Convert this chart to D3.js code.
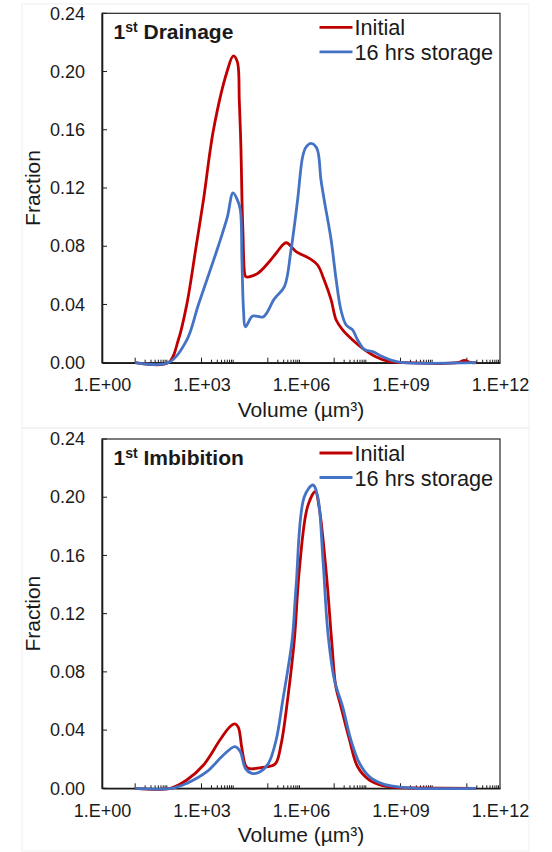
<!DOCTYPE html>
<html>
<head>
<meta charset="utf-8">
<script src="https://cdn.jsdelivr.net/npm/d3@7"></script>
<style>
body { margin: 0; background: #fff; }
text { font-family: Arial, "Liberation Sans", sans-serif; fill: #1a1a1a; }
</style>
</head>
<body>
<svg id="chart" width="552" height="852"></svg>
<script>
var yTicks = [0, 0.04, 0.08, 0.12, 0.16, 0.20, 0.24];
var xTickValues = [1e0, 1e3, 1e6, 1e9, 1e12];
var xTickLabels = ["1.E+00", "1.E+03", "1.E+06", "1.E+09", "1.E+12"];
var seriesNames = ["Initial", "16 hrs storage"];
var panelTitles = ["Drainage", "Imbibition"];

// 1st drainage
var drainInitVol  = [1e1, 1e2, 2.0e2, 3.6e2, 6.9e2, 1.15e3, 2.3e3, 5.9e3, 9.1e3, 1.2e4, 1.38e4, 1.55e4, 1.66e4, 1.78e4, 2.0e4, 2.19e4, 4.7e4, 1.07e5, 1.78e5, 3.55e5, 7.1e5, 1.78e6, 3.16e6, 5.0e6, 8.1e6, 1.15e7, 1.8e7, 3.6e7, 7.2e7, 1.8e8, 4.6e8, 1.2e9, 5.2e10, 8.3e10, 1.4e11, 1.9e11];
var drainInitFrac = [0, 0, 0.0156, 0.040, 0.080, 0.112, 0.160, 0.200, 0.2107, 0.2068, 0.180, 0.146, 0.112, 0.089, 0.0614, 0.059, 0.061, 0.069, 0.0752, 0.0824, 0.0763, 0.0717, 0.0671, 0.0568, 0.0431, 0.0293, 0.0225, 0.0156, 0.0099, 0.0041, 0.0007, 0, 0, 0.0015, 0, 0];
var drainStoVol   = [1e1, 1e2, 3.6e2, 8.1e2, 3.2e3, 6.0e3, 8.9e3, 1.2e4, 1.48e4, 1.66e4, 1.86e4, 2.1e4, 3.5e4, 7.4e4, 1.48e5, 1.78e5, 3.16e5, 5.0e5, 7.9e5, 1.12e6, 1.41e6, 2.0e6, 3.0e6, 4.0e6, 5.0e6, 8.1e6, 1.15e7, 1.6e7, 2.3e7, 3.6e7, 5.1e7, 8.1e7, 1.45e8, 2.9e8, 5.8e8, 1.2e9, 1.9e11];
var drainStoFrac  = [0, 0, 0.0156, 0.040, 0.080, 0.100, 0.1166, 0.112, 0.105, 0.070, 0.035, 0.0247, 0.032, 0.0316, 0.043, 0.0453, 0.0522, 0.0774, 0.1118, 0.1415, 0.148, 0.1507, 0.1473, 0.1255, 0.1118, 0.0843, 0.0568, 0.0362, 0.0259, 0.0225, 0.0156, 0.0092, 0.0076, 0.0041, 0.0014, 0, 0];

// 1st imbibition
var imbInitVol  = [1e1, 1.15e2, 3.6e2, 1.15e3, 3.6e3, 7.2e3, 1.02e4, 1.29e4, 1.62e4, 2.1e4, 2.6e4, 7.4e4, 1.66e5, 2.5e5, 4.0e5, 6.3e5, 8.9e5, 1.58e6, 2.7e6, 3.5e6, 5.8e6, 8.5e6, 1.12e7, 1.6e7, 2.9e7, 5.1e7, 1.15e8, 2.9e8, 7.9e8, 2e9, 1.9e11];
var imbInitFrac = [0, 0, 0.0057, 0.016, 0.0332, 0.0423, 0.0442, 0.0419, 0.0286, 0.016, 0.0137, 0.0144, 0.0167, 0.030, 0.062, 0.1019, 0.150, 0.1935, 0.2038, 0.1935, 0.1477, 0.100, 0.070, 0.0561, 0.0332, 0.0148, 0.0057, 0.0019, 0.0005, 0.0002, 0];
var imbStoVol   = [1e1, 1.3e2, 3.6e2, 1.45e3, 4.6e3, 1.02e4, 1.48e4, 2.1e4, 3.3e4, 5.9e4, 1.05e5, 1.78e5, 2.8e5, 5.4e5, 7.1e5, 1.26e6, 2.3e6, 3.2e6, 4.6e6, 6.5e6, 1.02e7, 1.8e7, 3.2e7, 5.8e7, 1.15e8, 2.9e8, 7.4e8, 3e9, 1.9e11];
var imbStoFrac  = [0, 0, 0.0034, 0.0114, 0.0229, 0.0286, 0.0251, 0.0137, 0.0103, 0.0114, 0.0172, 0.0332, 0.060, 0.1019, 0.1385, 0.2003, 0.2084, 0.2003, 0.1568, 0.1065, 0.0744, 0.0561, 0.0332, 0.0172, 0.008, 0.003, 0.0011, 0, 0];

var colors = ["#C00000", "#4472C4"];

var panels = [
    {top: 13.3, bottom: 362.7, title: panelTitles[0],
     series: [[drainInitVol, drainInitFrac], [drainStoVol, drainStoFrac]]},
    {top: 439, bottom: 788.3, title: panelTitles[1],
     series: [[imbInitVol, imbInitFrac], [imbStoVol, imbStoFrac]]}
];
var left = 102, right = 500;

var svg = d3.select("#chart");

// faint chart-area borders
svg.append("rect").attr("x", 22).attr("y", 4).attr("width", 507).attr("height", 424)
    .attr("fill", "none").attr("stroke", "#efefef");
svg.append("rect").attr("x", 22).attr("y", 428).attr("width", 507).attr("height", 423)
    .attr("fill", "none").attr("stroke", "#efefef");

// minor ticks: 1..9 x 10^d on odd decades
var minorTicks = [];
[1, 3, 5, 7, 9, 11].forEach(function(d) {
    for (var k = 1; k <= 9; k++) minorTicks.push({v: k * Math.pow(10, d), k: k});
});

panels.forEach(function(p) {
    var x = d3.scaleLog().domain([1e0, 1e12]).range([left, right]);
    var y = d3.scaleLinear().domain([0, 0.24]).range([p.bottom, p.top]);
    var g = svg.append("g");

    // frame
    g.append("rect")
        .attr("x", left).attr("y", p.top)
        .attr("width", right - left).attr("height", p.bottom - p.top)
        .attr("fill", "none").attr("stroke", "#262626").attr("stroke-width", 1.2);

    // y axis
    var yAxis = d3.axisLeft(y).tickValues(yTicks).tickFormat(d3.format(".2f")).tickSize(0).tickPadding(17);
    var ya = g.append("g").attr("transform", "translate(" + left + ",0)").call(yAxis);
    ya.select(".domain").attr("stroke", "#1a1a1a").attr("stroke-width", 1.6);
    ya.selectAll("text").style("font-size", "18px").attr("fill", "#1a1a1a");
    g.selectAll(".ytick").data(yTicks).enter().append("line")
        .attr("x1", left).attr("x2", left + 5)
        .attr("y1", function(d) { return y(d); }).attr("y2", function(d) { return y(d); })
        .attr("stroke", "#1a1a1a").attr("stroke-width", 1);

    // x axis
    var xAxis = d3.axisBottom(x).tickValues(xTickValues)
        .tickFormat(function(d, i) { return xTickLabels[i]; }).tickSize(0).tickPadding(16);
    var xa = g.append("g").attr("transform", "translate(0," + p.bottom + ")").call(xAxis);
    xa.select(".domain").attr("stroke", "#1a1a1a").attr("stroke-width", 1.6);
    xa.selectAll("text").style("font-size", "18px").attr("fill", "#1a1a1a");
    g.selectAll(".mtick").data(minorTicks).enter().append("line")
        .attr("x1", function(d) { return x(d.v); }).attr("x2", function(d) { return x(d.v); })
        .attr("y1", p.bottom).attr("y2", function(d) { return p.bottom - (d.k == 1 ? 5 : 3); })
        .attr("stroke", "#1a1a1a").attr("stroke-width", 1);

    // axis titles
    g.append("text")
        .attr("x", (left + right) / 2).attr("y", p.bottom + 54)
        .attr("text-anchor", "middle").style("font-size", "21px")
        .text("Volume (\u00b5m\u00b3)");
    g.append("text")
        .attr("transform", "translate(40," + (p.top + p.bottom) / 2 + ") rotate(-90)")
        .attr("text-anchor", "middle").style("font-size", "21px")
        .text("Fraction");

    // lines
    var line = d3.line()
        .x(function(d) { return x(d[0]); })
        .y(function(d) { return Math.min(p.bottom, y(d[1])); })
        .curve(d3.curveCatmullRom.alpha(0.5));
    p.series.forEach(function(s, i) {
        var pts = s[0].map(function(v, j) { return [v, s[1][j]]; });
        g.append("path")
            .attr("d", line(pts))
            .attr("fill", "none")
            .attr("stroke", colors[i])
            .attr("stroke-width", 2.8)
            .attr("stroke-linejoin", "round");
    });

    // panel title
    var t = g.append("text")
        .attr("x", left + 11.5).attr("y", p.top + 26)
        .style("font-size", "21px").style("font-weight", "bold");
    t.append("tspan").text("1");
    t.append("tspan").attr("dy", -7).style("font-size", "14px").text("st");
    t.append("tspan").attr("dy", 7).text(" " + p.title);

    // legend
    var legend = g.selectAll(".legend").data(seriesNames).enter().append("g")
        .attr("transform", function(d, i) { return "translate(0," + (p.top + 14 + i * 24.5) + ")"; });
    legend.append("line")
        .attr("x1", 319.5).attr("x2", 352.5).attr("y1", 0).attr("y2", 0)
        .attr("stroke", function(d, i) { return colors[i]; })
        .attr("stroke-width", 2.8);
    legend.append("text")
        .attr("x", 354.5).attr("y", 8)
        .style("font-size", "21.7px")
        .text(function(d) { return d; });
});
</script>
</body>
</html>
